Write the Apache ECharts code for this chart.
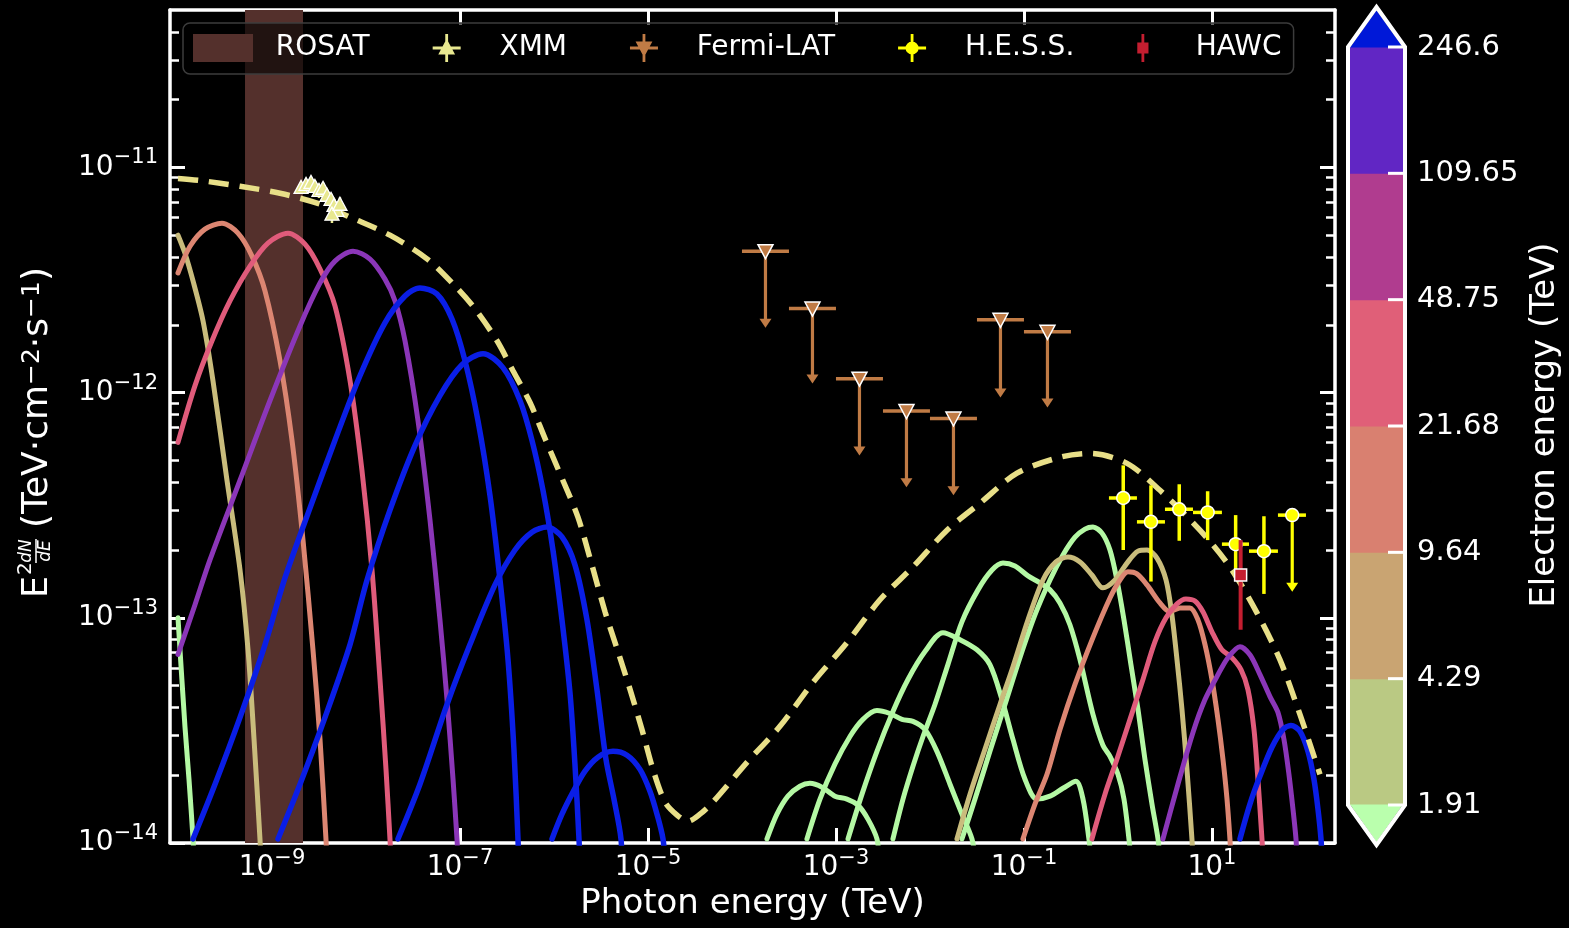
<!DOCTYPE html>
<html><head><meta charset="utf-8">
<script src="https://cdn.jsdelivr.net/npm/echarts@6/dist/echarts.min.js"></script>
<style>html,body{margin:0;padding:0;background:#000}#c{width:1569px;height:928px}</style>
</head><body><div id="c"></div>
<script>
// ---- axis setup (values are log10 of the physical quantities) ----
const FF = 'DejaVu Sans';
const X_MIN = -10.085, X_MAX = 2.309;            // log10 photon energy (TeV)
const Y_MIN = -14, Y_MAX = Math.log10(5e-11);     // log10 E^2 dN/dE
const xTickExp = [-9, -7, -5, -3, -1, 1];
const yTickExp = [-14, -13, -12, -11];
const yMinorMult = [2, 3, 4, 5, 6, 7, 8, 9];

// ---- synchrotron curves [log10 E, log10 flux] ----
const syncGreen  = [[-10.0,-13.0],[-9.926,-13.482],[-9.883,-13.717],[-9.840,-13.982],[-9.830,-14.071]];
const syncKhaki  = [[-10.0,-11.301],[-9.926,-11.381],[-9.840,-11.504],[-9.734,-11.681],[-9.628,-11.947],[-9.479,-12.389],[-9.340,-12.788],[-9.255,-13.142],[-9.191,-13.540],[-9.128,-13.982],[-9.117,-14.071]];
const syncSalmon = [[-10.0,-11.469],[-9.872,-11.350],[-9.713,-11.274],[-9.532,-11.248],[-9.362,-11.292],[-9.213,-11.394],[-9.074,-11.549],[-8.915,-11.858],[-8.787,-12.212],[-8.670,-12.655],[-8.564,-13.142],[-8.489,-13.540],[-8.426,-13.982],[-8.415,-14.071]];
const syncPink   = [[-10.0,-12.221],[-9.819,-11.969],[-9.638,-11.770],[-9.447,-11.593],[-9.234,-11.438],[-9.043,-11.336],[-8.830,-11.292],[-8.649,-11.341],[-8.489,-11.451],[-8.330,-11.615],[-8.170,-11.947],[-8.043,-12.345],[-7.936,-12.788],[-7.851,-13.274],[-7.787,-13.673],[-7.745,-13.982],[-7.734,-14.071]];
const syncPurple = [[-10.0,-13.163],[-9.819,-12.942],[-9.660,-12.743],[-9.340,-12.389],[-9.021,-12.035],[-8.702,-11.704],[-8.489,-11.513],[-8.330,-11.416],[-8.138,-11.372],[-7.957,-11.407],[-7.798,-11.496],[-7.691,-11.593],[-7.585,-11.770],[-7.447,-12.124],[-7.319,-12.566],[-7.213,-13.009],[-7.138,-13.363],[-7.074,-13.717],[-7.032,-13.982],[-7.021,-14.071]];
const syncBlue1  = [[-9.840,-13.982],[-9.606,-13.739],[-9.340,-13.442],[-9.074,-13.119],[-8.862,-12.823],[-8.596,-12.513],[-8.330,-12.212],[-8.064,-11.925],[-7.798,-11.690],[-7.585,-11.571],[-7.426,-11.535],[-7.245,-11.562],[-7.085,-11.673],[-6.947,-11.858],[-6.809,-12.124],[-6.681,-12.456],[-6.574,-12.832],[-6.489,-13.186],[-6.426,-13.584],[-6.383,-13.982],[-6.372,-14.115]];
const syncBlue2  = [[-8.936,-13.982],[-8.702,-13.739],[-8.436,-13.442],[-8.170,-13.119],[-7.989,-12.832],[-7.745,-12.522],[-7.479,-12.235],[-7.213,-12.013],[-6.979,-11.876],[-6.755,-11.827],[-6.543,-11.889],[-6.362,-12.035],[-6.234,-12.212],[-6.117,-12.434],[-6.011,-12.699],[-5.915,-13.009],[-5.830,-13.332],[-5.777,-13.650],[-5.734,-13.982],[-5.723,-14.115]];
const syncBlue3  = [[-7.660,-13.982],[-7.426,-13.739],[-7.138,-13.385],[-6.894,-13.119],[-6.628,-12.854],[-6.415,-12.699],[-6.234,-12.620],[-6.074,-12.597],[-5.915,-12.641],[-5.777,-12.765],[-5.649,-13.009],[-5.543,-13.318],[-5.447,-13.628],[-5.362,-13.805],[-5.287,-13.982],[-5.277,-14.115]];
const syncBlue4  = [[-6.021,-13.982],[-5.915,-13.872],[-5.798,-13.774],[-5.670,-13.681],[-5.532,-13.619],[-5.372,-13.593],[-5.223,-13.610],[-5.085,-13.673],[-4.979,-13.770],[-4.904,-13.872],[-4.840,-13.982],[-4.819,-14.093]];

// ---- inverse-Compton curves ----
const icGreen1 = [[-3.734,-13.982],[-3.628,-13.872],[-3.511,-13.792],[-3.383,-13.748],[-3.277,-13.735],[-3.149,-13.752],[-3.011,-13.792],[-2.883,-13.805],[-2.766,-13.832],[-2.660,-13.894],[-2.564,-13.982],[-2.543,-14.071]];
const icGreen2 = [[-3.309,-13.982],[-3.170,-13.805],[-3.011,-13.650],[-2.851,-13.527],[-2.713,-13.451],[-2.564,-13.412],[-2.426,-13.425],[-2.298,-13.451],[-2.181,-13.460],[-2.053,-13.496],[-1.926,-13.593],[-1.787,-13.739],[-1.660,-13.872],[-1.553,-13.982],[-1.521,-14.071]];
const icGreen3 = [[-2.872,-13.982],[-2.723,-13.783],[-2.564,-13.593],[-2.394,-13.416],[-2.234,-13.274],[-2.053,-13.150],[-1.862,-13.066],[-1.681,-13.097],[-1.500,-13.142],[-1.362,-13.208],[-1.234,-13.363],[-1.117,-13.540],[-0.989,-13.717],[-0.862,-13.805],[-0.723,-13.792],[-0.585,-13.757],[-0.447,-13.726],[-0.372,-13.805],[-0.309,-13.982],[-0.287,-14.071]];
const icGreen4 = [[-2.394,-13.982],[-2.287,-13.805],[-2.181,-13.659],[-2.074,-13.527],[-1.947,-13.385],[-1.809,-13.208],[-1.660,-13.018],[-1.489,-12.876],[-1.340,-12.788],[-1.223,-12.757],[-1.096,-12.770],[-0.957,-12.814],[-0.830,-12.845],[-0.723,-12.876],[-0.617,-12.934],[-0.511,-13.031],[-0.404,-13.186],[-0.266,-13.429],[-0.160,-13.566],[-0.085,-13.615],[0.0,-13.695],[0.064,-13.805],[0.117,-13.982],[0.138,-14.071]];
const icGreen5 = [[-1.660,-13.982],[-1.521,-13.805],[-1.362,-13.593],[-1.202,-13.385],[-1.043,-13.177],[-0.883,-12.987],[-0.723,-12.832],[-0.585,-12.721],[-0.457,-12.642],[-0.351,-12.606],[-0.266,-12.597],[-0.170,-12.624],[-0.085,-12.699],[-0.011,-12.832],[0.064,-13.009],[0.138,-13.208],[0.213,-13.407],[0.287,-13.628],[0.362,-13.827],[0.426,-13.982],[0.447,-14.071]];
const icKhaki  = [[-1.713,-13.982],[-1.574,-13.783],[-1.415,-13.584],[-1.255,-13.385],[-1.117,-13.217],[-0.957,-13.009],[-0.798,-12.832],[-0.660,-12.752],[-0.532,-12.730],[-0.404,-12.752],[-0.277,-12.810],[-0.160,-12.867],[-0.032,-12.832],[0.096,-12.757],[0.213,-12.704],[0.309,-12.699],[0.415,-12.735],[0.511,-12.832],[0.574,-12.987],[0.628,-13.186],[0.681,-13.407],[0.734,-13.673],[0.787,-13.982],[0.798,-14.071]];
const icSalmon = [[-1.011,-13.982],[-0.883,-13.827],[-0.755,-13.695],[-0.617,-13.496],[-0.457,-13.296],[-0.266,-13.088],[-0.085,-12.912],[0.021,-12.832],[0.106,-12.796],[0.202,-12.805],[0.309,-12.854],[0.447,-12.934],[0.553,-12.973],[0.660,-12.956],[0.766,-12.956],[0.851,-13.009],[0.926,-13.119],[1.000,-13.274],[1.064,-13.451],[1.117,-13.628],[1.160,-13.805],[1.191,-13.982],[1.202,-14.071]];
const icPink   = [[-0.277,-13.982],[-0.138,-13.783],[-0.011,-13.628],[0.128,-13.451],[0.266,-13.274],[0.394,-13.106],[0.511,-13.000],[0.628,-12.938],[0.723,-12.916],[0.819,-12.925],[0.904,-12.973],[1.000,-13.062],[1.106,-13.142],[1.213,-13.177],[1.309,-13.230],[1.383,-13.319],[1.447,-13.496],[1.489,-13.717],[1.532,-13.982],[1.543,-14.071]];
const icPurple = [[0.479,-13.982],[0.638,-13.739],[0.798,-13.509],[0.926,-13.363],[1.053,-13.261],[1.170,-13.177],[1.298,-13.128],[1.404,-13.164],[1.511,-13.252],[1.617,-13.350],[1.702,-13.420],[1.766,-13.540],[1.819,-13.695],[1.862,-13.850],[1.894,-13.982],[1.904,-14.071]];
const icBlue   = [[1.298,-13.982],[1.404,-13.827],[1.511,-13.703],[1.638,-13.575],[1.755,-13.496],[1.840,-13.478],[1.936,-13.504],[2.021,-13.593],[2.085,-13.717],[2.128,-13.850],[2.160,-13.982],[2.170,-14.070]];

// ---- total model (dashed) ----
const totalModel = [[-10.0,-11.049],[-9.766,-11.058],[-9.340,-11.084],[-8.915,-11.115],[-8.489,-11.163],[-8.170,-11.221],[-7.745,-11.301],[-7.351,-11.406],[-7.074,-11.517],[-6.840,-11.628],[-6.606,-11.770],[-6.436,-11.903],[-6.255,-12.044],[-6.096,-12.203],[-5.915,-12.380],[-5.745,-12.553],[-5.596,-12.766],[-5.457,-12.973],[-5.319,-13.150],[-5.191,-13.318],[-5.064,-13.496],[-4.947,-13.673],[-4.819,-13.818],[-4.691,-13.876],[-4.574,-13.903],[-4.447,-13.872],[-4.309,-13.818],[-3.947,-13.642],[-3.596,-13.482],[-3.245,-13.287],[-2.883,-13.110],[-2.532,-12.920],[-2.181,-12.774],[-1.819,-12.611],[-1.468,-12.491],[-1.074,-12.358],[-0.617,-12.287],[-0.298,-12.270],[0.096,-12.314],[0.447,-12.434],[0.872,-12.611],[1.191,-12.774],[1.479,-12.978],[1.723,-13.186],[1.936,-13.429],[2.149,-13.695]];

// ---- observations ----
const rosatLogE = [-9.287, -8.670];
const xmmLogE = [-8.691,-8.638,-8.585,-8.543,-8.500,-8.457,-8.415,-8.372,-8.340,-8.309,-8.362,-8.277];
const xmmLogF = [-11.093,-11.080,-11.071,-11.089,-11.106,-11.097,-11.128,-11.146,-11.173,-11.195,-11.212,-11.168];
const xmmErrE = [0.02,0.02,0.02,0.02,0.02,0.02,0.02,0.02,0.02,0.02,0.02,0.02];
const xmmErrF = [0.025,0.025,0.025,0.03,0.03,0.03,0.03,0.03,0.035,0.035,0.035,0.035];
const fermiLogE   = [-3.75,-3.25,-2.75,-2.25,-1.75,-1.25,-0.75];
const fermiLogElo = [-4.0,-3.5,-3.0,-2.5,-2.0,-1.5,-1.0];
const fermiLogEhi = [-3.5,-3.0,-2.5,-2.0,-1.5,-1.0,-0.5];
const fermiLogUL  = [-11.372,-11.627,-11.938,-12.082,-12.115,-11.677,-11.730];
const fermiArrowTo= [-11.712,-11.960,-12.279,-12.420,-12.456,-12.022,-12.066];
const hessLogE   = [0.056,0.351,0.652,0.954,1.252,1.553];
const hessLogElo = [-0.096,0.202,0.500,0.798,1.106,1.394];
const hessLogEhi = [0.202,0.500,0.798,1.106,1.394,1.702];
const hessLogF   = [-12.468,-12.574,-12.518,-12.532,-12.673,-12.704];
const hessLogFlo = [-12.699,-12.839,-12.658,-12.655,-12.823,-12.894];
const hessLogFhi = [-12.323,-12.412,-12.407,-12.438,-12.544,-12.549];
const hessULLogE = [1.854], hessULLogElo = [1.702], hessULLogEhi = [2.0], hessULLogF = [-12.544], hessULArrowTo = [-12.884];
const hawcLogE = [1.305], hawcLogF = [-12.810], hawcLogFlo = [-13.053], hawcLogFhi = [-12.655];

// ---- colour bar ----
const cbTicks = ['1.91','4.29','9.64','21.68','48.75','109.65','246.6'];
const cbColors = ['#bac983','#c9a472','#d98070','#e05f78','#b03c8f','#6126c4'];
const cbUnder = '#baffad', cbOver = '#0018d8';

// ---- colours ----
const C = {green:'#b4f8a4', khaki:'#c9bc7c', salmon:'#dc8672', pink:'#e05b7b', purple:'#8b36b8', blue:'#0a1ee6',
  total:'#e8df88', rosat:'#54302c', xmm:'#e8e890', fermi:'#c07b45', hess:'#ffff00', hawc:'#c41e30'};

const yMinor = [];
yTickExp.forEach(d => yMinorMult.forEach(k => { const v = d + Math.log10(k); if (v < Y_MAX - 1e-4) yMinor.push(v); }));

function supLabel(v) { return '{b|10}{s|' + (v < 0 ? '\u2212' : '') + Math.abs(v) + '}'; }
const richTick = {b:{fontSize:28, lineHeight:40, color:'#fff', fontFamily:FF}, s:{fontSize:21, lineHeight:21, verticalAlign:'top', color:'#fff', fontFamily:FF}};
const spine = {show:true, onZero:false, lineStyle:{color:'#fff', width:3.5}};

function curve(data, color, z, width) {
  return {type:'line', data, showSymbol:false, symbol:'none', smooth:0.3, silent:true, z:z||2, clip:true,
    lineStyle:{color, width:width||5, cap:'round', join:'round'}};
}

const series = [];
series.push({type:'custom', name:'ROSAT', z:1, clip:true, silent:true, itemStyle:{color:C.rosat},
  data:[[rosatLogE[0], rosatLogE[1]]],
  renderItem:(p, api) => {
    const cs = p.coordSys;
    const a = api.coord([api.value(0), Y_MIN]), b = api.coord([api.value(1), Y_MIN]);
    return {type:'rect', shape:{x:a[0], y:cs.y, width:b[0]-a[0], height:cs.height}, style:{fill:C.rosat}};
  }});
[[icGreen1,C.green],[icGreen2,C.green],[icGreen3,C.green],[icGreen4,C.green],[icGreen5,C.green],[syncGreen,C.green],
 [syncKhaki,C.khaki],[icKhaki,C.khaki],[syncSalmon,C.salmon],[icSalmon,C.salmon],[syncPink,C.pink],[icPink,C.pink],
 [syncPurple,C.purple],[icPurple,C.purple],[syncBlue1,C.blue],[syncBlue2,C.blue],[syncBlue3,C.blue],[syncBlue4,C.blue],[icBlue,C.blue]]
 .forEach(([d,c]) => series.push(curve(d, c, 2, c === C.blue ? 5.5 : 5)));
series.push({type:'line', data:totalModel, showSymbol:false, symbol:'none', smooth:0.3, silent:true, z:3,
  lineStyle:{color:C.total, width:5.5, type:[20,11]}});

series.push({type:'custom', name:'XMM', z:6, clip:true, silent:true, itemStyle:{color:C.xmm},
  data: xmmLogE.map((e,i) => [e, xmmLogF[i], xmmErrE[i], xmmErrF[i]]),
  renderItem:(p, api) => {
    const e = api.value(0), f = api.value(1), de = api.value(2), df = api.value(3);
    const c = api.coord([e,f]), l = api.coord([e-de,f]), r = api.coord([e+de,f]);
    const t = api.coord([e,f+df]), b = api.coord([e,f-df]);
    return {type:'group', children:[
      {type:'line', shape:{x1:l[0],y1:c[1],x2:r[0],y2:c[1]}, style:{stroke:C.xmm, lineWidth:2.5}},
      {type:'line', shape:{x1:c[0],y1:t[1],x2:c[0],y2:b[1]}, style:{stroke:C.xmm, lineWidth:2.5}},
      {type:'polygon', shape:{points:[[c[0],c[1]-8],[c[0]+7,c[1]+5],[c[0]-7,c[1]+5]]}, style:{fill:C.xmm, stroke:'#fff', lineWidth:1.3}}
    ]};
  }});

function ulItem(api, color, marker) {
  const e = api.value(0), f = api.value(1), lo = api.value(2), hi = api.value(3), to = api.value(4);
  const c = api.coord([e,f]), l = api.coord([lo,f]), r = api.coord([hi,f]), end = api.coord([e,to]);
  return {type:'group', children:[
    {type:'line', shape:{x1:l[0],y1:c[1],x2:r[0],y2:c[1]}, style:{stroke:color, lineWidth:3.5}},
    {type:'line', shape:{x1:c[0],y1:c[1],x2:c[0],y2:end[1]-8}, style:{stroke:color, lineWidth:3.2}},
    {type:'polygon', shape:{points:[[c[0]-6,end[1]-9],[c[0]+6,end[1]-9],[c[0],end[1]]]}, style:{fill:color}},
    marker(c)
  ]};
}
series.push({type:'custom', name:'Fermi-LAT', z:6, clip:true, silent:true, itemStyle:{color:C.fermi},
  data: fermiLogE.map((e,i) => [e, fermiLogUL[i], fermiLogElo[i], fermiLogEhi[i], fermiArrowTo[i]]),
  renderItem:(p, api) => ulItem(api, C.fermi, c => ({type:'polygon',
    shape:{points:[[c[0]-7.5,c[1]-6.5],[c[0]+7.5,c[1]-6.5],[c[0],c[1]+7.5]]}, style:{fill:C.fermi, stroke:'#fff', lineWidth:1.5}}))});

series.push({type:'custom', name:'H.E.S.S.', z:6, clip:true, silent:true, itemStyle:{color:C.hess},
  data: hessLogE.map((e,i) => [e, hessLogF[i], hessLogElo[i], hessLogEhi[i], hessLogFlo[i], hessLogFhi[i]]),
  renderItem:(p, api) => {
    const e = api.value(0), f = api.value(1);
    const c = api.coord([e,f]), l = api.coord([api.value(2),f]), r = api.coord([api.value(3),f]);
    const b = api.coord([e,api.value(4)]), t = api.coord([e,api.value(5)]);
    return {type:'group', children:[
      {type:'line', shape:{x1:l[0],y1:c[1],x2:r[0],y2:c[1]}, style:{stroke:C.hess, lineWidth:3.5}},
      {type:'line', shape:{x1:c[0],y1:t[1],x2:c[0],y2:b[1]}, style:{stroke:C.hess, lineWidth:3.5}},
      {type:'circle', shape:{cx:c[0], cy:c[1], r:6.5}, style:{fill:C.hess, stroke:'#fff', lineWidth:1.5}}
    ]};
  }});
series.push({type:'custom', name:'H.E.S.S.', z:6, clip:true, silent:true, itemStyle:{color:C.hess},
  data: hessULLogE.map((e,i) => [e, hessULLogF[i], hessULLogElo[i], hessULLogEhi[i], hessULArrowTo[i]]),
  renderItem:(p, api) => ulItem(api, C.hess, c => ({type:'circle', shape:{cx:c[0], cy:c[1], r:6.5}, style:{fill:C.hess, stroke:'#fff', lineWidth:1.5}}))});

series.push({type:'custom', name:'HAWC', z:7, clip:true, silent:true, itemStyle:{color:C.hawc},
  data: hawcLogE.map((e,i) => [e, hawcLogF[i], hawcLogFlo[i], hawcLogFhi[i]]),
  renderItem:(p, api) => {
    const e = api.value(0), f = api.value(1);
    const c = api.coord([e,f]), b = api.coord([e,api.value(2)]), t = api.coord([e,api.value(3)]);
    return {type:'group', children:[
      {type:'line', shape:{x1:c[0],y1:t[1],x2:c[0],y2:b[1]}, style:{stroke:C.hawc, lineWidth:4}},
      {type:'rect', shape:{x:c[0]-6, y:c[1]-6, width:12, height:12}, style:{fill:C.hawc, stroke:'#fff', lineWidth:1.5}}
    ]};
  }});

// colour bar graphics
const CB = {l:1350, r:1403, top:47, bot:805};
const cbStep = (CB.bot - CB.top) / cbColors.length;
const cbMid = (CB.l + CB.r) / 2;
const graphics = [];
cbColors.forEach((c,i) => graphics.push({type:'rect', z:10, shape:{x:CB.l, y:CB.bot-(i+1)*cbStep-0.5, width:CB.r-CB.l, height:cbStep+1}, style:{fill:c}}));
graphics.push({type:'polygon', z:10, shape:{points:[[CB.l,CB.top+0.5],[CB.r,CB.top+0.5],[cbMid,10]]}, style:{fill:cbOver}});
graphics.push({type:'polygon', z:10, shape:{points:[[CB.l,CB.bot-0.5],[CB.r,CB.bot-0.5],[cbMid,842]]}, style:{fill:cbUnder}});
graphics.push({type:'polygon', z:11, shape:{points:[[CB.l-2,CB.top],[cbMid,7],[CB.r+2,CB.top],[CB.r+2,CB.bot],[cbMid,845],[CB.l-2,CB.bot]]},
  style:{fill:'rgba(0,0,0,0)', stroke:'#fff', lineWidth:4, lineJoin:'miter'}});
cbTicks.forEach((t,i) => {
  const y = CB.bot - i*cbStep;
  graphics.push({type:'line', z:12, shape:{x1:CB.r-15, y1:y, x2:CB.r, y2:y}, style:{stroke:'#fff', lineWidth:3}});
  graphics.push({type:'text', z:12, x:1417, y:y, style:{text:t, fill:'#fff', fontSize:29, fontFamily:FF, align:'left', verticalAlign:'middle'}});
});
graphics.push({type:'text', z:12, x:1545, y:425, rotation:Math.PI/2, style:{text:'Electron energy (TeV)', fill:'#fff', fontSize:34, fontFamily:FF, align:'center', verticalAlign:'middle'}});
// y axis title
graphics.push({type:'group', x:51, y:598, rotation:Math.PI/2, children:[
  {type:'text', x:0, y:-13, style:{text:'E', fill:'#fff', fontSize:35, fontFamily:FF, align:'left', verticalAlign:'middle'}},
  {type:'text', x:23, y:-25, style:{text:'2', fill:'#fff', fontSize:20, fontFamily:FF, align:'left', verticalAlign:'middle'}},
  {type:'text', x:47, y:-24, style:{text:'dN', fill:'#fff', fontSize:17, fontStyle:'italic', fontFamily:FF, align:'center', verticalAlign:'middle'}},
  {type:'line', shape:{x1:35, y1:-15, x2:59, y2:-15}, style:{stroke:'#fff', lineWidth:1.5}},
  {type:'text', x:47, y:-5, style:{text:'dE', fill:'#fff', fontSize:17, fontStyle:'italic', fontFamily:FF, align:'center', verticalAlign:'middle'}},
  {type:'text', x:70, y:-13, style:{text:'(TeV\u00b7cm{s|\u22122}\u00b7s{s|\u22121})', fill:'#fff', fontSize:36, fontFamily:FF, align:'left', verticalAlign:'middle',
     rich:{s:{fontSize:25, fill:'#fff', fontFamily:FF, verticalAlign:'top', lineHeight:24}}}}
]});

const xBase = {type:'value', min:X_MIN, max:X_MAX, splitLine:{show:false}, axisLine:spine};
const yBase = {type:'value', min:Y_MIN, max:Y_MAX, splitLine:{show:false}};

const option = {
  backgroundColor:'#000', animation:false,
  textStyle:{fontFamily:FF},
  grid:{left:170, right:234, top:10, bottom:85, containLabel:false},
  xAxis:[
    Object.assign({}, xBase, {position:'bottom',
      axisTick:{inside:true, length:15, lineStyle:{color:'#fff', width:3}, customValues:xTickExp},
      axisLabel:{customValues:xTickExp, formatter:supLabel, rich:richTick, margin:5, color:'#fff'},
      name:'Photon energy (TeV)', nameLocation:'middle', nameGap:44,
      nameTextStyle:{color:'#fff', fontSize:34, fontFamily:FF}}),
    Object.assign({}, xBase, {position:'top',
      axisTick:{inside:true, length:15, lineStyle:{color:'#fff', width:3}, customValues:xTickExp},
      axisLabel:{show:false}})
  ],
  yAxis:[
    Object.assign({}, yBase, {position:'left', axisLine:spine,
      axisTick:{inside:true, length:15, lineStyle:{color:'#fff', width:3}, customValues:yTickExp},
      axisLabel:{customValues:yTickExp, formatter:supLabel, rich:richTick, margin:12, color:'#fff'}}),
    Object.assign({}, yBase, {position:'left', axisLine:{show:false, onZero:false},
      axisTick:{inside:true, length:9, lineStyle:{color:'#fff', width:2.5}, customValues:yMinor}, axisLabel:{show:false}}),
    Object.assign({}, yBase, {position:'right', axisLine:spine,
      axisTick:{inside:true, length:15, lineStyle:{color:'#fff', width:3}, customValues:yTickExp}, axisLabel:{show:false}}),
    Object.assign({}, yBase, {position:'right', axisLine:{show:false, onZero:false},
      axisTick:{inside:true, length:9, lineStyle:{color:'#fff', width:2.5}, customValues:yMinor}, axisLabel:{show:false}})
  ],
  legend:{left:183, top:23, orient:'horizontal', itemWidth:60, itemHeight:28, itemGap:63, padding:[11,12,12,10],
    backgroundColor:'rgba(0,0,0,0.6)', borderColor:'#3c3c3c', borderWidth:1.5, borderRadius:7, selectedMode:false,
    formatter: name => '\u00a0\u00a0' + name,
    textStyle:{color:'#fff', fontSize:28, fontFamily:FF},
    data:[
      {name:'ROSAT', icon:'rect', itemStyle:{color:C.rosat}},
      {name:'XMM', icon:'path://M0,13.5H30V16.5H0Z M13.5,0H16.5V30H13.5Z M15,5L24,22L6,22Z', itemStyle:{color:C.xmm}},
      {name:'Fermi-LAT', icon:'path://M0,13.5H30V16.5H0Z M13.5,0H16.5V30H13.5Z M6,8L24,8L15,25Z', itemStyle:{color:C.fermi}},
      {name:'H.E.S.S.', icon:'path://M0,13.5H30V16.5H0Z M13.5,0H16.5V30H13.5Z M15,8A7,7 0 1,1 14.99,8Z', itemStyle:{color:C.hess}},
      {name:'HAWC', icon:'path://M13.5,0H16.5V30H13.5Z M9,9H21V21H9Z', itemStyle:{color:C.hawc}}
    ]},
  graphic:{elements:graphics},
  series
};
const chart = echarts.init(document.getElementById('c'));
chart.setOption(option);
</script></body></html>
